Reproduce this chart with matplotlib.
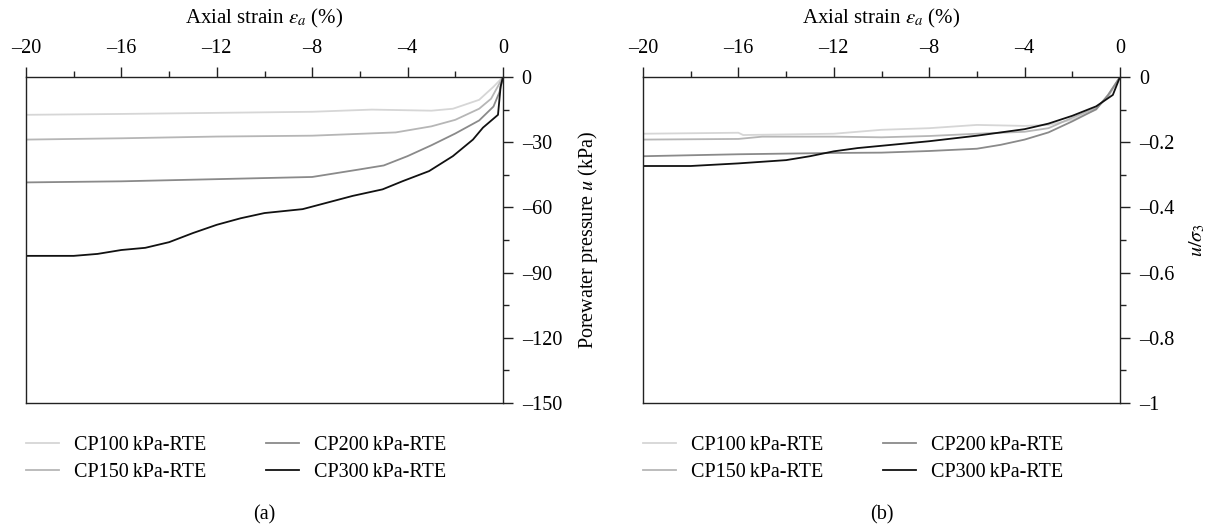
import matplotlib
matplotlib.use("Agg")
import matplotlib.pyplot as plt
from matplotlib.ticker import MultipleLocator, FuncFormatter
from matplotlib.lines import Line2D

plt.rcParams['font.family'] = ['Liberation Serif', 'DejaVu Serif']
plt.rcParams['mathtext.fontset'] = 'stix'

# ---- data: panel (a) porewater pressure (kPa) vs axial strain (%)
a_cp100_x = [-20, -16, -12, -8, -5.5, -3, -2.1, -1, -0.4, 0]
a_cp100_y = [-17.4, -17.0, -16.5, -16.0, -15.0, -15.5, -14.6, -10.5, -4.5, 0]
a_cp150_x = [-20, -16, -12, -8, -4.5, -3, -2, -1, -0.5, -0.2, 0]
a_cp150_y = [-28.8, -28.2, -27.4, -27.0, -25.5, -22.7, -19.7, -14.6, -10.0, -4.0, 0]
a_cp200_x = [-20, -16, -12, -8, -6, -5, -4, -3, -2, -1, -0.4, -0.15, 0]
a_cp200_y = [-48.5, -48.0, -47.0, -46.0, -42.5, -40.7, -36.4, -31.4, -26.0, -20.0, -13.6, -7.0, 0]
a_cp300_x = [-20, -18, -17, -16, -15, -14, -13, -12, -11, -10, -8.4, -6.3, -5.05, -4.2,
             -3.1, -2.1, -1.26, -0.84, -0.21, -0.1, 0]
a_cp300_y = [-82.3, -82.3, -81.4, -79.6, -78.6, -76.0, -71.8, -68.0, -65.0, -62.6, -60.8, -54.7,
             -51.7, -47.9, -43.3, -36.4, -28.8, -23.3, -17.4, -4.4, 0]

# ---- data: panel (b) u / sigma3 vs axial strain (%)
b_cp100_x = [-20, -16, -15.8, -12, -10, -8, -6, -4, -3, -2, -1, -0.5, 0]
b_cp100_y = [-0.174, -0.171, -0.178, -0.174, -0.162, -0.157, -0.147, -0.150, -0.147, -0.131, -0.100, -0.055, 0]
b_cp150_x = [-20, -16, -15, -12, -10, -8, -6, -4, -3, -2, -1, -0.5, 0]
b_cp150_y = [-0.192, -0.190, -0.183, -0.183, -0.185, -0.181, -0.174, -0.168, -0.157, -0.125, -0.095, -0.060, 0]
b_cp200_x = [-20, -16, -12, -10, -8, -6, -5, -4, -3, -2, -1, -0.5, 0]
b_cp200_y = [-0.243, -0.237, -0.233, -0.232, -0.227, -0.220, -0.208, -0.192, -0.170, -0.136, -0.099, -0.055, 0]
b_cp300_x = [-20, -18, -16, -14, -13, -12, -11, -10, -8, -6, -4, -3, -2, -1, -0.3, 0]
b_cp300_y = [-0.273, -0.273, -0.265, -0.255, -0.243, -0.228, -0.218, -0.211, -0.197, -0.180, -0.160,
             -0.143, -0.119, -0.090, -0.055, 0]

labels = ['CP100\u2009kPa-RTE', 'CP150\u2009kPa-RTE', 'CP200\u2009kPa-RTE', 'CP300\u2009kPa-RTE']
colors = ['#d6d6d6', '#b6b6b6', '#8a8a8a', '#111111']

W, H = 1212, 527
fig = plt.figure(figsize=(W / 100, H / 100), dpi=100)
ax1 = fig.add_axes([26 / W, 1 - 403 / H, 477 / W, 326 / H])
ax2 = fig.add_axes([643 / W, 1 - 403 / H, 477 / W, 326 / H])


def minus(v, fmt):
    return fmt(v).replace('-', '\u2013')


def style(ax, ylim, ymaj, ymin, yfmt, ylabel, ylabelpad):
    ax.set_xlim(-20, 0)
    ax.set_ylim(*ylim)
    ax.xaxis.tick_top()
    ax.xaxis.set_label_position('top')
    ax.yaxis.tick_right()
    ax.yaxis.set_label_position('right')
    ax.xaxis.set_major_locator(MultipleLocator(4))
    ax.xaxis.set_minor_locator(MultipleLocator(2))
    ax.yaxis.set_major_locator(MultipleLocator(ymaj))
    ax.yaxis.set_minor_locator(MultipleLocator(ymin))
    ax.xaxis.set_major_formatter(FuncFormatter(lambda v, p: minus(v, lambda x: '%d' % round(x))))
    ax.yaxis.set_major_formatter(FuncFormatter(lambda v, p: minus(v, yfmt)))
    ax.tick_params(which='major', direction='out', length=7.5, width=1, labelsize=14.5, color='#222222')
    ax.tick_params(which='minor', direction='out', length=4, width=1, color='#222222')
    ax.tick_params(axis='x', which='major', pad=6)
    ax.tick_params(axis='y', which='major', pad=6)
    for s in ax.spines.values():
        s.set_linewidth(1.0)
        s.set_color('#222222')
    ax.set_xlabel(r'Axial strain $\varepsilon_a$ (%)', fontsize=15, labelpad=11)
    ax.set_ylabel(ylabel, fontsize=14.5, labelpad=ylabelpad)


# panel a
for x, y, c in zip([a_cp100_x, a_cp150_x, a_cp200_x, a_cp300_x],
                   [a_cp100_y, a_cp150_y, a_cp200_y, a_cp300_y], colors):
    ax1.plot(x, y, color=c, lw=1.3)
style(ax1, (-150, 0), 30, 15, lambda v: '%d' % round(v), r'Porewater pressure $u$ (kPa)', 10)


# panel b
def bfmt(v):
    if abs(v) < 1e-9:
        return '0'
    if abs(round(v) - v) < 1e-9:
        return '%d' % round(v)
    return '%.1f' % v


for x, y, c in zip([b_cp100_x, b_cp150_x, b_cp200_x, b_cp300_x],
                   [b_cp100_y, b_cp150_y, b_cp200_y, b_cp300_y], colors):
    ax2.plot(x, y, color=c, lw=1.3)
style(ax2, (-1, 0), 0.2, 0.1, bfmt, r'$u/\sigma_3$', 10)

handles = [Line2D([], [], color=c, lw=1.3) for c in colors]
for ax, cap in [(ax1, '(a)'), (ax2, '(b)')]:
    ax.legend(handles, labels, ncol=2, loc='upper left', bbox_to_anchor=(0.0, -0.1),
              frameon=False, fontsize=14.5, handlelength=1.65, handletextpad=0.75,
              columnspacing=2.95, labelspacing=0.42, borderaxespad=0, borderpad=0)
    ax.text(0.5, -0.344, cap, transform=ax.transAxes, ha='center', va='center', fontsize=14.5)

fig.savefig('out.png', dpi=100)
